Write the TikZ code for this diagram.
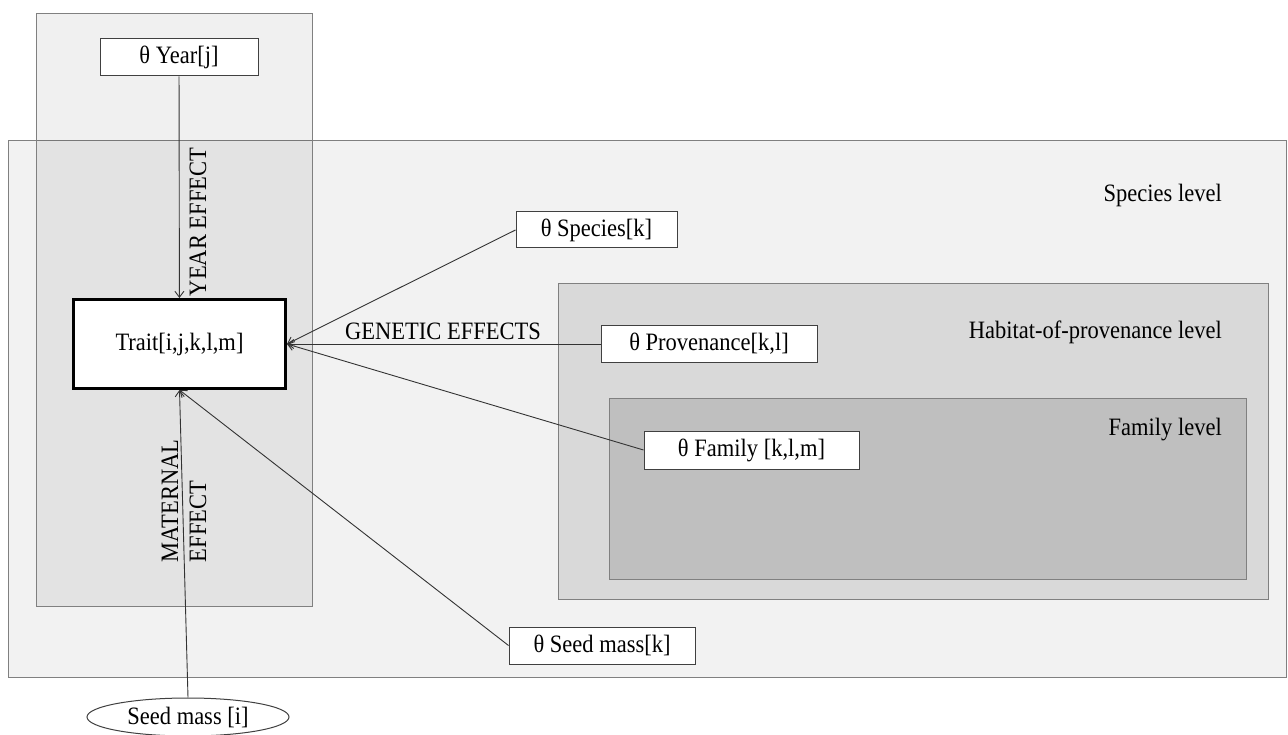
\documentclass[tikz,border=0pt]{standalone}
\usepackage{fontspec}
\setmainfont{Liberation Serif}[FakeStretch=0.9]
\usetikzlibrary{arrows.meta,shapes.geometric}
\definecolor{panelline}{HTML}{808080}
\definecolor{specfill}{HTML}{F2F2F2}
\definecolor{habfill}{HTML}{D9D9D9}
\definecolor{famfill}{HTML}{BFBFBF}
\definecolor{boxline}{HTML}{404040}
\tikzset{
  panel/.style={draw=panelline, line width=0.8pt},
  varbox/.style={draw=boxline, fill=white, line width=1pt, inner sep=0pt, font=\fontsize{25}{28}\selectfont},
  lbl/.style={inner sep=0pt, font=\fontsize{25}{28}\selectfont},
  arr/.style={draw=black!80, line width=0.9pt, -{Straight Barb[length=6pt,width=9pt]}}
}
\begin{document}
\begin{tikzpicture}[x=1pt,y=-1pt]
\useasboundingbox (0,0) rectangle (1288,735);
% panels
\draw[panel, fill=specfill] (8,140) rectangle (1286,677);
\draw[panel, fill=black, fill opacity=0.06] (36,13) rectangle (312,606);
\draw[panel, fill=habfill] (558,283) rectangle (1268,599);
\draw[panel, fill=famfill] (609,398) rectangle (1246,579);
% level labels
\node[lbl, anchor=east] (lspec) at (1222,195) {Species level};
\node[lbl, anchor=east] (lhab) at (1222,332) {Habitat-of-provenance level};
\node[lbl, anchor=east] (lfam) at (1222,430) {Family level};
% variable nodes
\node[varbox, minimum width=158pt, minimum height=37pt] (year) at (179,57.5) {θ Year[j]};
\node[varbox, draw=black, line width=3pt, minimum width=212pt, minimum height=89pt] (trait) at (179.5,344) {Trait[i,j,k,l,m]};
\node[varbox, minimum width=161pt, minimum height=36pt] (species) at (596.5,230) {θ Species[k]};
\node[varbox, minimum width=216pt, minimum height=36pt] (prov) at (709,344) {θ Provenance[k,l]};
\node[varbox, minimum width=215pt, minimum height=38pt] (family) at (751.5,450) {θ Family [k,l,m]};
\node[varbox, minimum width=186pt, minimum height=37pt] (seedk) at (602,645.5) {θ Seed mass[k]};
\node[varbox, ellipse, minimum width=202pt, minimum height=38pt] (seedi) at (188,717) {Seed mass [i]};
% connectors
\draw[arr] (year) -- (trait);
\draw[arr] (seedi.north) -- (trait.south);
\draw[arr] (seedk.west) -- (trait.south);
\draw[arr] (species.west) -- (trait.east);
\draw[arr] (prov.west) -- (trait.east);
\draw[arr] (family.west) -- (trait.east);
% connector labels
\node[lbl, rotate=90] (lyear) at (198,222) {YEAR EFFECT};
\node[lbl, rotate=90, align=left] (lmat) at (184,501) {MATERNAL\\EFFECT};
\node[lbl] (lgen) at (443,331) {GENETIC EFFECTS};
\end{tikzpicture}
\end{document}
